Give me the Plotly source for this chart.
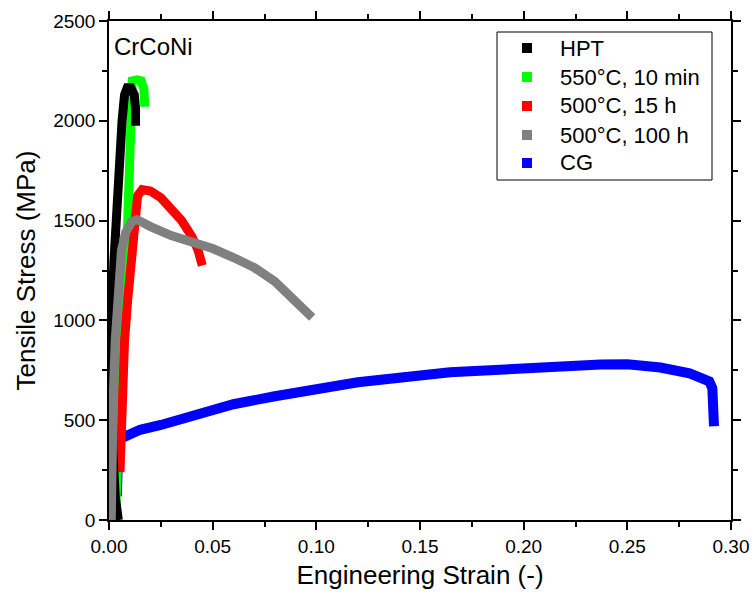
import plotly.graph_objects as go

# ---- data ----
hpt_strain = [0.0045, 0.0030, 0.0018, 0.0012, 0.0013, 0.0024, 0.0036, 0.0048, 0.0063, 0.0075, 0.0088, 0.0105, 0.0122, 0.0128, 0.0128]
hpt_stress = [0, 120, 350, 700, 1000, 1300, 1550, 1750, 2000, 2130, 2165, 2165, 2130, 2060, 1975]

g550_strain = [0.0030, 0.0055, 0.0070, 0.0080, 0.0086, 0.0091, 0.0095, 0.0099, 0.0104, 0.0112, 0.0135, 0.0155, 0.0168, 0.0171, 0.0173]
g550_stress = [0, 500, 900, 1200, 1350, 1600, 1850, 2050, 2170, 2200, 2205, 2200, 2160, 2110, 2070]

r15_strain = [0.0053, 0.0058, 0.0065, 0.0075, 0.0090, 0.0102, 0.0115, 0.0125, 0.0138, 0.0160, 0.0200, 0.0250, 0.0300, 0.0350, 0.0400, 0.0430, 0.0450]
r15_stress = [240, 450, 650, 900, 1100, 1250, 1420, 1550, 1625, 1655, 1648, 1615, 1565, 1500, 1420, 1350, 1275]

g100_strain = [0.0011, 0.0013, 0.0020, 0.0030, 0.0045, 0.0060, 0.0080, 0.0110, 0.0135, 0.0170, 0.0200, 0.0300, 0.0400, 0.0500, 0.0600, 0.0700, 0.0800, 0.0870, 0.0920, 0.0960, 0.0980]
g100_stress = [0, 300, 600, 900, 1200, 1350, 1440, 1495, 1505, 1485, 1470, 1425, 1395, 1360, 1315, 1265, 1195, 1127, 1075, 1040, 1015]

cg_strain = [0.0038, 0.0040, 0.0045, 0.0060, 0.0100, 0.0150, 0.0250, 0.0400, 0.0500, 0.0600, 0.0800, 0.0920, 0.1200, 0.1645, 0.2000, 0.2370, 0.2500, 0.2660, 0.2800, 0.2850, 0.2895, 0.2910, 0.2912, 0.2915, 0.2918]
cg_stress = [120, 300, 380, 410, 435, 452, 476, 520, 555, 580, 620, 644, 690, 740, 765, 779, 780, 764, 735, 716, 695, 660, 600, 520, 470]

series_names = ["HPT", "550°C, 10 min", "500°C, 15 h", "500°C, 100 h", "CG"]
series_colors = ["#000000", "#00ff00", "#ff0000", "#808080", "#0000ff"]

x_ticks = [0.00, 0.05, 0.10, 0.15, 0.20, 0.25, 0.30]
y_ticks = [0, 500, 1000, 1500, 2000, 2500]

FONT = "Arial, Liberation Sans, sans-serif"

data_map = {
    "HPT": (hpt_strain, hpt_stress),
    "550°C, 10 min": (g550_strain, g550_stress),
    "500°C, 15 h": (r15_strain, r15_stress),
    "500°C, 100 h": (g100_strain, g100_stress),
    "CG": (cg_strain, cg_stress),
}
color_map = dict(zip(series_names, series_colors))
width_map = {"HPT": 9, "550°C, 10 min": 9, "500°C, 15 h": 9, "500°C, 100 h": 9, "CG": 10}

# ---- layout geometry (pixels) ----
W, H = 754, 601
L, R, T, B = 109, 23, 21, 81
PW, PH = W - L - R, H - T - B


def px_x(px):
    return (px - L) / PW


def px_y(py):
    return (H - B - py) / PH


fig = go.Figure()

# drawing order (bottom to top)
draw_order = ["CG", "550°C, 10 min", "500°C, 15 h", "HPT", "500°C, 100 h"]
for name in draw_order:
    xs, ys = data_map[name]
    fig.add_trace(go.Scatter(
        x=xs, y=ys, mode="lines", name=name, showlegend=False,
        line=dict(color=color_map[name], width=width_map[name]),
    ))

axis_common = dict(
    showline=True, linecolor="black", linewidth=1.5, mirror="ticks",
    ticks="outside", ticklen=8, tickwidth=1.5, tickcolor="black",
    showgrid=False, zeroline=False, automargin=False,
    tickfont=dict(family=FONT, size=19, color="black"),
)

fig.update_xaxes(
    range=[0, 0.30], tickvals=x_ticks, tickformat=".2f",
    minor=dict(dtick=0.025, ticks="outside", ticklen=5, tickwidth=1.5, tickcolor="black", showgrid=False),
    title=dict(text="Engineering Strain (-)", font=dict(family=FONT, size=26, color="black"), standoff=10),
    **axis_common,
)
fig.update_yaxes(
    range=[0, 2500], tickvals=y_ticks,
    minor=dict(dtick=250, ticks="outside", ticklen=5, tickwidth=1.5, tickcolor="black", showgrid=False),
    title=dict(text="Tensile Stress (MPa)", font=dict(family=FONT, size=26, color="black"), standoff=10),
    **axis_common,
)

fig.add_annotation(
    text="CrCoNi", xref="paper", yref="paper", x=px_x(112), y=px_y(46),
    xanchor="left", yanchor="middle", showarrow=False,
    font=dict(family=FONT, size=24, color="black"),
)

# ---- legend drawn as box + squares + text ----
leg_box = (497, 32, 712, 180)
leg_rows = [48, 77, 106, 135, 163]
fig.add_shape(type="rect", xref="paper", yref="paper",
              x0=px_x(leg_box[0]), x1=px_x(leg_box[2]),
              y0=px_y(leg_box[3]), y1=px_y(leg_box[1]),
              line=dict(color="black", width=1), fillcolor="white", layer="above")
for name, row in zip(series_names, leg_rows):
    fig.add_shape(type="rect", xref="paper", yref="paper",
                  x0=px_x(522), x1=px_x(532), y0=px_y(row + 5), y1=px_y(row - 5),
                  line=dict(width=0), fillcolor=color_map[name], layer="above")
    fig.add_annotation(text=name, xref="paper", yref="paper",
                       x=px_x(558), y=px_y(row), xanchor="left", yanchor="middle",
                       showarrow=False, font=dict(family=FONT, size=22, color="black"))

fig.update_layout(
    width=W, height=H,
    margin=dict(l=L, r=R, t=T, b=B),
    paper_bgcolor="white", plot_bgcolor="white",
    font=dict(family=FONT, color="black"),
    showlegend=False,
)

fig.write_html(
    "out.html",
    config={"displayModeBar": False},
    post_script="document.body.style.margin='0px';document.body.style.overflow='hidden';",
)
